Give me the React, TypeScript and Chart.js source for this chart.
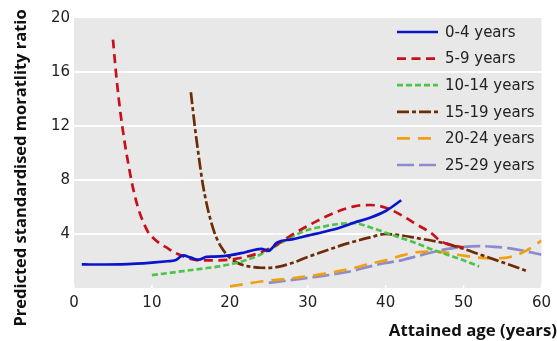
import React, { useEffect, useRef } from 'react';
import { Chart, registerables } from 'chart.js';

Chart.register(...registerables);

// ---- data ----
const xTickValues = [0, 10, 20, 30, 40, 50, 60];
const yTickValues = [4, 8, 12, 16, 20];
const seriesLabels = ['0-4 years', '5-9 years', '10-14 years', '15-19 years', '20-24 years', '25-29 years'];
const yAxisTitle = 'Predicted standardised moratlity ratio';
const xAxisTitle = 'Attained age (years)';

const ages0to4 = [1, 2, 4, 6, 8, 10, 12, 13, 14, 15, 16, 17, 18, 20, 22, 24, 25, 25.5, 26, 28, 30, 32, 34, 36, 38, 40, 42];
const smr0to4 = [1.75, 1.74, 1.74, 1.75, 1.8, 1.88, 1.98, 2.05, 2.42, 2.25, 2.1, 2.3, 2.33, 2.42, 2.65, 2.9, 2.75, 3.0, 3.35, 3.6, 3.88, 4.15, 4.45, 4.85, 5.2, 5.7, 6.5];

const ages5to9 = [5, 5.5, 6, 6.5, 7, 7.5, 8, 8.5, 9, 9.5, 10, 11, 12, 13, 14, 15, 16, 18, 20, 22, 24, 26, 28, 30, 32, 34, 36, 38, 40, 42, 44, 46, 47, 48, 50];
const smr5to9 = [18.4, 15.3, 12.8, 10.8, 9.1, 7.6, 6.4, 5.45, 4.75, 4.15, 3.8, 3.3, 2.95, 2.6, 2.35, 2.15, 2.05, 2.05, 2.1, 2.3, 2.65, 3.2, 3.95, 4.6, 5.2, 5.7, 6.05, 6.15, 5.95, 5.4, 4.7, 4.0, 3.5, 3.25, 3.0];

const ages10to14 = [10, 12, 14, 16, 18, 20, 22, 24, 26, 28, 30, 32, 34, 36, 38, 40, 42, 44, 46, 48, 50, 52];
const smr10to14 = [0.95, 1.1, 1.25, 1.4, 1.55, 1.75, 2.05, 2.5, 3.15, 3.8, 4.3, 4.55, 4.75, 4.8, 4.5, 4.1, 3.7, 3.3, 2.85, 2.45, 2.05, 1.6];

const ages15to19 = [15, 15.5, 16, 16.5, 17, 17.5, 18, 18.5, 19, 19.5, 20, 21, 22, 23, 24, 25, 26, 28, 30, 32, 34, 36, 38, 40, 42, 44, 46, 48, 50, 52, 54, 56, 58];
const smr15to19 = [14.5, 12.0, 9.8, 7.8, 6.3, 5.1, 4.15, 3.45, 2.95, 2.55, 2.25, 1.85, 1.65, 1.55, 1.5, 1.49, 1.55, 1.85, 2.3, 2.7, 3.1, 3.45, 3.75, 4.0, 3.9, 3.7, 3.5, 3.25, 2.9, 2.5, 2.1, 1.7, 1.28];

const ages20to24 = [20, 22, 24, 26, 28, 30, 32, 34, 36, 38, 40, 42, 44, 46, 48, 50, 52, 54, 56, 58, 60];
const smr20to24 = [0.12, 0.3, 0.48, 0.6, 0.72, 0.87, 1.05, 1.25, 1.5, 1.8, 2.05, 2.4, 2.65, 2.7, 2.6, 2.4, 2.25, 2.2, 2.3, 2.75, 3.5];

const ages25to29 = [25, 28, 30, 32, 34, 36, 38, 40, 42, 44, 46, 48, 50, 52, 54, 56, 58, 60];
const smr25to29 = [0.38, 0.6, 0.75, 0.9, 1.08, 1.3, 1.6, 1.85, 2.05, 2.35, 2.65, 2.9, 3.05, 3.1, 3.05, 2.93, 2.72, 2.47];

const seriesAges = [ages0to4, ages5to9, ages10to14, ages15to19, ages20to24, ages25to29];
const seriesSmr = [smr0to4, smr5to9, smr10to14, smr15to19, smr20to24, smr25to29];

// ---- styles ----
const colors = ['#0a14c8', '#c8101a', '#4cc34a', '#6e2c06', '#f0a010', '#8c8ccc'];
const dashes: number[][] = [[], [9, 5.5], [6, 3], [12, 3, 4, 3], [13, 8], [17, 5]];
const FONT = "'DejaVu Sans', sans-serif";
const TITLE_FONT = "'Open Sans', sans-serif";

const plotBg = {
  id: 'plotBg',
  beforeDraw(chart: any) {
    const { ctx, chartArea: a } = chart;
    ctx.save();
    ctx.fillStyle = '#e8e8e8';
    ctx.fillRect(a.left, a.top, a.right - a.left, a.bottom - a.top);
    ctx.restore();
  },
  beforeDatasetsDraw(chart: any) {
    const { ctx, chartArea: a, scales } = chart;
    ctx.save();
    ctx.strokeStyle = '#ffffff';
    ctx.lineWidth = 1.5;
    xTickValues.forEach((v) => {
      const px = scales.x.getPixelForValue(v);
      ctx.beginPath();
      ctx.moveTo(px, a.bottom);
      ctx.lineTo(px, a.bottom - 3);
      ctx.stroke();
    });
    ctx.restore();
  },
  afterDraw(chart: any) {
    const { ctx } = chart;
    ctx.save();
    // legend
    ctx.font = `15px ${FONT}`;
    ctx.textBaseline = 'middle';
    ctx.textAlign = 'left';
    chart.data.datasets.forEach((ds: any, i: number) => {
      const y = 32 + i * 26.6;
      ctx.strokeStyle = ds.borderColor;
      ctx.lineWidth = ds.borderWidth;
      ctx.setLineDash(ds.borderDash || []);
      ctx.beginPath();
      ctx.moveTo(397, y);
      ctx.lineTo(438, y);
      ctx.stroke();
      ctx.setLineDash([]);
      ctx.fillStyle = '#222';
      ctx.fillText(ds.label, 445, y + 1);
    });
    // axis titles
    ctx.fillStyle = '#111';
    ctx.font = `bold 16.8px ${TITLE_FONT}`;
    ctx.textAlign = 'right';
    ctx.textBaseline = 'alphabetic';
    ctx.fillText(xAxisTitle, 557, 336);
    ctx.translate(26, 168);
    ctx.rotate(-Math.PI / 2);
    ctx.textAlign = 'center';
    ctx.font = `bold 16.5px ${TITLE_FONT}`;
    ctx.fillText(yAxisTitle, 0, 0);
    ctx.restore();
  },
};

export default function App() {
  const ref = useRef<HTMLCanvasElement | null>(null);
  useEffect(() => {
    document.body.style.margin = '0';
    const canvas = ref.current;
    if (!canvas) return;
    const chart = new Chart(canvas, {
      type: 'line',
      data: {
        datasets: seriesLabels.map((label, i) => ({
          label,
          data: seriesAges[i].map((a, j) => ({ x: a, y: seriesSmr[i][j] })),
          borderColor: colors[i],
          backgroundColor: colors[i],
          borderWidth: 2.7,
          borderDash: dashes[i],
          pointRadius: 0,
          tension: 0.4,
          cubicInterpolationMode: 'monotone' as const,
          fill: false,
        })),
      },
      options: {
        responsive: false,
        animation: false,
        layout: { padding: { top: 18, right: 10, left: 0, bottom: 0 } },
        plugins: { legend: { display: false }, tooltip: { enabled: false } },
        scales: {
          x: {
            type: 'linear',
            min: 0,
            max: 60,
            afterBuildTicks: (s: any) => { s.ticks = xTickValues.map((v) => ({ value: v })); },
            afterFit: (s: any) => { s.height = 53; },
            grid: { display: false, drawTicks: false },
            border: { display: false },
            ticks: { color: '#222', font: { family: FONT, size: 15 }, padding: 6, maxRotation: 0 },
          },
          y: {
            min: 0,
            max: 20,
            afterBuildTicks: (s: any) => { s.ticks = [0, ...yTickValues].map((v) => ({ value: v })); },
            afterFit: (s: any) => { s.width = 74; },
            grid: {
              color: (c: any) => (c.tick && c.tick.value > 0 && c.tick.value < 20 ? '#ffffff' : 'rgba(0,0,0,0)'),
              lineWidth: 2,
              drawTicks: false,
            },
            border: { display: false },
            ticks: {
              color: '#222',
              font: { family: FONT, size: 15 },
              padding: 4,
              callback: (v: any) => (v === 0 ? '' : String(v)),
            },
          },
        },
      },
      plugins: [plotBg],
    } as any);
    return () => chart.destroy();
  }, []);
  return <canvas ref={ref} width={557} height={341} style={{ display: 'block' }} />;
}
